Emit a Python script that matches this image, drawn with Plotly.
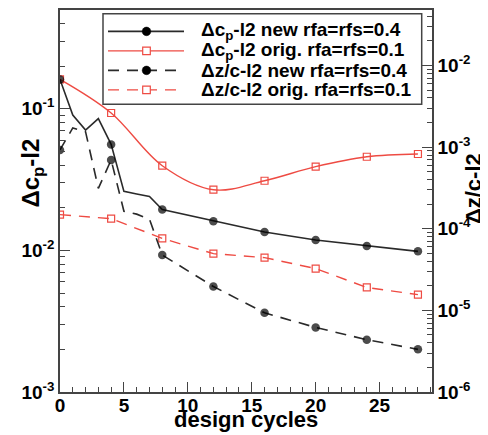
import plotly.graph_objects as go

# ---- data ----
cycles_new = [0, 1, 2, 3, 4, 5, 6, 7, 8, 12, 16, 20, 24, 28]
marked_new = [True, False, False, False, True, False, False, False, True, True, True, True, True, True]
dcp_new = [0.161, 0.0903, 0.0706, 0.0851, 0.056, 0.0261, 0.025, 0.024, 0.0194,
           0.01607, 0.01346, 0.01183, 0.01074, 0.00984]
dzc_new = [9.23e-4, 1.72e-3, 1.54e-3, 3.12e-4, 6.97e-4, 1.64e-4, 1.51e-4, 1.31e-4,
           4.77e-5, 1.96e-5, 9.33e-6, 6.18e-6, 4.37e-6, 3.33e-6]

cycles_orig = [0, 4, 8, 12, 16, 20, 24, 28]
dcp_orig = [0.161, 0.0933, 0.0396, 0.0268, 0.031, 0.039, 0.0458, 0.0479]
dzc_orig = [1.49e-4, 1.33e-4, 7.62e-5, 4.95e-5, 4.43e-5, 3.25e-5, 1.91e-5, 1.56e-5]

names = ["Δc<sub>p</sub>-l2 new rfa=rfs=0.4",
         "Δc<sub>p</sub>-l2 orig. rfa=rfs=0.1",
         "Δz/c-l2 new rfa=rfs=0.4",
         "Δz/c-l2 orig. rfa=rfs=0.1"]

left_tickvals = [1e-3, 1e-2, 1e-1]
left_ticktext = ["10<sup>-3</sup>", "10<sup>-2</sup>", "10<sup>-1</sup>"]
right_tickvals = [1e-6, 1e-5, 1e-4, 1e-3, 1e-2]
right_ticktext = ["10<sup>-6</sup>", "10<sup>-5</sup>", "10<sup>-4</sup>", "10<sup>-3</sup>", "10<sup>-2</sup>"]

BLACK = "#2a2a2a"
RED = "#ee4b43"
FONT = "Liberation Sans, Arial, sans-serif"
DASH = "11px,8px"

msize_new = [8.5 if m else 0 for m in marked_new]

fig = go.Figure()
fig.add_trace(go.Scatter(x=cycles_orig, y=dcp_orig, name=names[1], mode="lines+markers",
                         line=dict(color=RED, width=1.4, shape="spline", smoothing=1.0),
                         marker=dict(symbol="square-open", size=7, color=RED, line=dict(width=1.2)),
                         yaxis="y", showlegend=False))
fig.add_trace(go.Scatter(x=cycles_orig, y=dzc_orig, name=names[3], mode="lines+markers",
                         line=dict(color=RED, width=1.4, dash=DASH),
                         marker=dict(symbol="square-open", size=7, color=RED, line=dict(width=1.2)),
                         yaxis="y2", showlegend=False))
fig.add_trace(go.Scatter(x=cycles_new, y=dcp_new, name=names[0], mode="lines+markers",
                         line=dict(color=BLACK, width=1.6),
                         marker=dict(symbol="circle", size=msize_new, color="black",
                                     line=dict(width=0)),
                         yaxis="y", showlegend=False))
fig.add_trace(go.Scatter(x=cycles_new, y=dzc_new, name=names[2], mode="lines+markers",
                         line=dict(color=BLACK, width=1.6, dash=DASH),
                         marker=dict(symbol="circle", size=msize_new, color="black",
                                     line=dict(width=0)),
                         yaxis="y2", showlegend=False))

tickfont = dict(family=FONT, size=19, color="black", weight="bold")
axcommon = dict(showline=True, linecolor="#444", linewidth=1.5, showgrid=False, zeroline=False,
                ticks="inside", ticklen=10, tickwidth=1.3, tickcolor="#444", tickfont=tickfont)
minor_log = dict(dtick="D1", ticks="inside", ticklen=5, tickcolor="#444", tickwidth=1.2)

# the page body has an 8px default margin, so the figure is 8px smaller and
# its left/top margins are 8px smaller to keep the plot area where the reference has it
fig.update_layout(
    width=480, height=427,
    margin=dict(l=52, r=56, t=0, b=43),
    paper_bgcolor="white", plot_bgcolor="white",
    showlegend=False,
    xaxis=dict(range=[0, 29.1], tick0=0, dtick=5, mirror=True, ticklabelstandoff=-5,
               minor=dict(dtick=1, ticks="inside", ticklen=5, tickcolor="#444", tickwidth=1.2),
               **axcommon),
    yaxis=dict(type="log", range=[-3, -0.303], tickmode="array",
               tickvals=left_tickvals, ticktext=left_ticktext, minor=minor_log, **axcommon),
    yaxis2=dict(type="log", range=[-6, -1.32], tickmode="array",
                tickvals=right_tickvals, ticktext=right_ticktext, minor=minor_log,
                overlaying="y", side="right", anchor="x", **axcommon),
)

# ---- axis titles ----
titlefont = dict(family=FONT, size=24, color="black", weight="bold")
fig.add_annotation(text="Δc<sub>p</sub>-l2", xref="paper", yref="paper", x=-0.075, y=0.572,
                   xanchor="center", yanchor="middle", textangle=-90, showarrow=False, font=titlefont)
fig.add_annotation(text="Δz/c-l2", xref="paper", yref="paper", x=1.112, y=0.533,
                   xanchor="center", yanchor="middle", textangle=-90, showarrow=False,
                   font=dict(family=FONT, size=22, color="black", weight="bold"))
fig.add_annotation(text="design cycles", xref="paper", yref="paper", x=0.5, y=-0.0715,
                   xanchor="center", yanchor="middle", showarrow=False,
                   font=dict(family=FONT, size=22, color="black", weight="bold"))

# ---- legend (drawn in paper coordinates; page pixel -> paper) ----
def px_x(p):
    return (p - 60) / 372.0

def px_y(p):
    return (392 - p) / 384.0

fig.add_shape(type="rect", xref="paper", yref="paper",
              x0=px_x(103), x1=px_x(421.7), y0=px_y(102.7), y1=px_y(11.7),
              line=dict(color="#444", width=1.5), fillcolor="white", layer="above")

legend_styles = [
    dict(color=BLACK, dash="solid", sym="circle"),
    dict(color=RED, dash="solid", sym="square"),
    dict(color=BLACK, dash=DASH, sym="circle"),
    dict(color=RED, dash=DASH, sym="square"),
]
for i, (name, st) in enumerate(zip(names, legend_styles)):
    yc = px_y(29.5 + i * 19.6)
    fig.add_shape(type="line", xref="paper", yref="paper",
                  x0=px_x(108), x1=px_x(184), y0=yc, y1=yc,
                  line=dict(color=st["color"], width=1.6 if st["color"] == BLACK else 1.4,
                            dash=st["dash"]), layer="above")
    if st["sym"] == "circle":
        fig.add_shape(type="circle", xref="paper", yref="paper", xsizemode="pixel", ysizemode="pixel",
                      xanchor=px_x(146.5), yanchor=yc, x0=-4.3, x1=4.3, y0=-4.3, y1=4.3,
                      line=dict(color="black", width=0.5), fillcolor="black", layer="above")
    else:
        fig.add_shape(type="rect", xref="paper", yref="paper", xsizemode="pixel", ysizemode="pixel",
                      xanchor=px_x(146.5), yanchor=yc, x0=-3.8, x1=3.8, y0=-3.8, y1=3.8,
                      line=dict(color=RED, width=1.2), fillcolor="white", layer="above")
    fig.add_annotation(text=name, xref="paper", yref="paper", x=px_x(199), y=yc,
                       xanchor="left", yanchor="middle", showarrow=False,
                       font=dict(family=FONT, size=19, color="black", weight="bold"))

fig.write_html("out.html")
